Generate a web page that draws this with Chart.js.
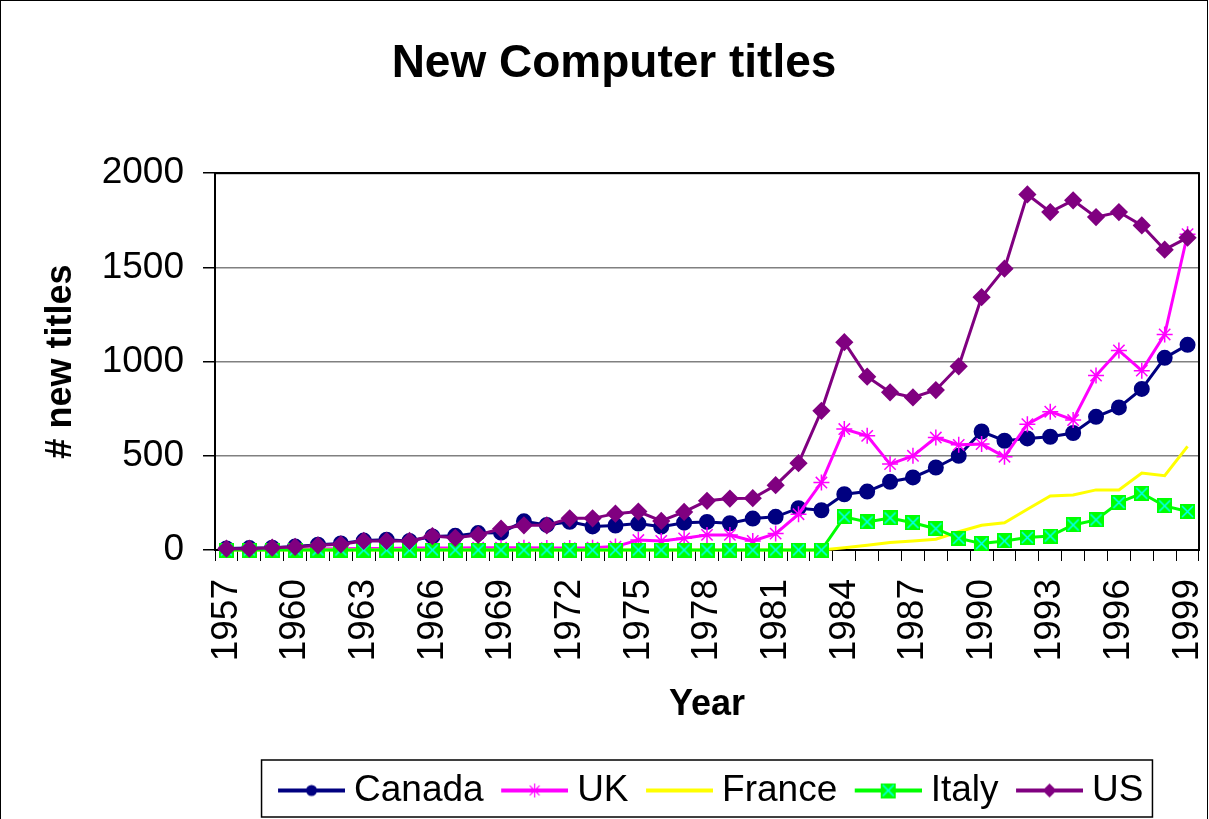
<!DOCTYPE html>
<html>
<head>
<meta charset="utf-8">
<script src="https://cdn.jsdelivr.net/npm/chart.js@4.4.0/dist/chart.umd.min.js"></script>
<style>
  html, body { margin: 0; padding: 0; background: #fff; }
  canvas { display: block; }
</style>
</head>
<body>
<canvas id="Chart" width="1209" height="819"></canvas>
<script>
// años 1957..1999
const years = ['1957','1958','1959','1960','1961','1962','1963','1964','1965','1966',
  '1967','1968','1969','1970','1971','1972','1973','1974','1975','1976','1977','1978',
  '1979','1980','1981','1982','1983','1984','1985','1986','1987','1988','1989','1990',
  '1991','1992','1993','1994','1995','1996','1997','1998','1999'];

const canada = [8, 10, 12, 18, 28, 35, 50, 55, 48, 72, 75, 90, 92, 152, 133, 150, 125, 130,
  140, 124, 145, 149, 142, 167, 176, 222, 211, 296, 310, 362,
  385, 438, 500, 629, 580, 592, 601, 621, 707, 757, 855, 1020, 1089];

const uk = [3, 3, 4, 5, 5, 6, 8, 8, 10, 10, 10, 12, 12, 12, 10, 10, 12, 18,
  53, 48, 62, 80, 80, 48, 87, 190, 358, 642, 606, 456,
  500, 597, 558, 562, 495, 668, 734, 690, 926, 1059, 952, 1144, 1676];

const france = [0, 0, 0, 0, 0, 0, 0, 0, 0, 0, 0, 0, 0, 0, 0, 0, 0, 0,
  0, 0, 0, 0, 0, 0, 0, 0, 0, 12, 25, 40,
  48, 57, 97, 131, 145, 216, 287, 292, 319, 319, 408, 394, 550];

const italy = [0, 0, 0, 0, 0, 0, 0, 0, 0, 0, 0, 0, 0, 0, 0, 0, 0, 0,
  0, 0, 0, 0, 0, 0, 0, 0, 0, 176, 149, 170,
  145, 113, 62, 34, 48, 66, 74, 133, 160, 252, 301, 234, 204];

const us = [7, 7, 12, 16, 25, 30, 48, 48, 48, 74, 65, 80, 113, 131, 131, 168, 168, 193,
  204, 154, 202, 261, 273, 275, 344, 461, 739, 1103, 920, 837,
  810, 849, 975, 1342, 1493, 1887, 1794, 1856, 1767, 1794, 1723, 1594, 1658];

const yTicks = [0, 500, 1000, 1500, 2000];

const NAVY = '#000080', MAGENTA = '#FF00FF', YELLOW = '#FFFF00', GREEN = '#00FF00', PURPLE = '#800080';

// marcador de Italia: cuadrado verde con una X cian
function italyMarker(size) {
  const c = document.createElement('canvas');
  c.width = size; c.height = size;
  const g = c.getContext('2d');
  g.fillStyle = GREEN;
  g.fillRect(0, 0, size, size);
  g.strokeStyle = '#00FFFF';
  g.lineWidth = 1.5;
  g.beginPath();
  g.moveTo(2, 2); g.lineTo(size - 2, size - 2);
  g.moveTo(size - 2, 2); g.lineTo(2, size - 2);
  g.stroke();
  return c;
}

// muestra de leyenda: línea + marcador, con hueco transparente a la izquierda
function legendSample(color, marker) {
  const c = document.createElement('canvas');
  c.width = 84; c.height = 20;
  const g = c.getContext('2d');
  const x0 = 17, x1 = 84, cx = (x0 + x1) / 2, cy = 10;
  g.strokeStyle = color;
  g.lineWidth = 4;
  g.beginPath(); g.moveTo(x0, cy); g.lineTo(x1, cy); g.stroke();
  g.fillStyle = color;
  if (marker === 'circle') {
    g.beginPath(); g.arc(cx, cy, 5.5, 0, Math.PI * 2); g.fill();
  } else if (marker === 'star') {
    g.lineWidth = 1.2;
    g.beginPath();
    for (let k = 0; k < 4; k++) {
      const a = k * Math.PI / 4;
      g.moveTo(cx - Math.cos(a) * 7, cy - Math.sin(a) * 7);
      g.lineTo(cx + Math.cos(a) * 7, cy + Math.sin(a) * 7);
    }
    g.stroke();
  } else if (marker === 'square') {
    g.drawImage(italyMarker(15), cx - 7.5, cy - 7.5);
  } else if (marker === 'diamond') {
    g.beginPath();
    g.moveTo(cx - 7, cy); g.lineTo(cx, cy - 7); g.lineTo(cx + 7, cy); g.lineTo(cx, cy + 7);
    g.closePath(); g.fill();
  }
  return c;
}

const samples = [
  legendSample(NAVY, 'circle'),
  legendSample(MAGENTA, 'star'),
  legendSample(YELLOW, null),
  legendSample(GREEN, 'square'),
  legendSample(PURPLE, 'diamond')
];

const framePlugin = {
  id: 'frame',
  beforeDatasetsDraw(chart) {
    const a = chart.chartArea, c = chart.ctx;
    c.save();
    c.strokeStyle = '#000';
    c.lineWidth = 2;
    c.strokeRect(a.left, a.top, a.right - a.left, a.bottom - a.top);
    c.restore();
  },
  afterDraw(chart) {
    const c = chart.ctx;
    const hb = chart.legend.legendHitBoxes;
    c.save();
    c.strokeStyle = '#000';
    c.lineWidth = 1;
    c.strokeRect(0.5, 0.5, chart.width - 2, chart.height + 10);
    if (hb && hb.length) {
      const first = hb[0], last = hb[hb.length - 1];
      const left = first.left - 9, right = last.left + last.width + 9;
      const top = first.top - 12, bottom = first.top + first.height + 8;
      c.lineWidth = 1.5;
      c.strokeRect(left, top, right - left, bottom - top);
    }
    c.restore();
  }
};

Chart.defaults.font.family = '"Liberation Sans", Arial, sans-serif';
Chart.defaults.color = '#000';

const ctx = document.getElementById('Chart').getContext('2d');

const chart = new Chart(ctx, {
  type: 'line',
  data: {
    labels: years,
    datasets: [
      { label: 'Canada', data: canada, borderColor: NAVY, backgroundColor: NAVY,
        borderWidth: 3, pointStyle: 'circle', pointRadius: 6.5, order: 5 },
      { label: 'UK', data: uk, borderColor: MAGENTA, backgroundColor: MAGENTA,
        borderWidth: 3, pointStyle: 'star', pointRadius: 8, pointBorderWidth: 1.5, order: 4 },
      { label: 'France', data: france, borderColor: YELLOW, backgroundColor: YELLOW,
        borderWidth: 3, pointRadius: 0, order: 3 },
      { label: 'Italy', data: italy, borderColor: GREEN, backgroundColor: GREEN,
        borderWidth: 3, pointStyle: italyMarker(15), order: 2 },
      { label: 'US', data: us, borderColor: PURPLE, backgroundColor: PURPLE,
        borderWidth: 3, pointStyle: 'rectRot', pointRadius: 7, order: 1 }
    ]
  },
  options: {
    responsive: false,
    animation: false,
    devicePixelRatio: 1,
    clip: false,
    layout: { padding: { left: 28, right: 9, top: 0, bottom: 0 } },
    elements: { line: { tension: 0 } },
    plugins: {
      title: {
        display: true,
        text: 'New Computer titles',
        font: { size: 46, weight: 'bold' },
        padding: { top: 37, bottom: 81 }
      },
      legend: {
        position: 'bottom',
        fullSize: false,
        labels: {
          usePointStyle: true,
          pointStyleWidth: 65,
          padding: 10,
          font: { size: 37 },
          generateLabels: (ch) => ch.data.datasets.map((ds, i) => ({
            text: ds.label,
            pointStyle: samples[i],
            datasetIndex: i,
            hidden: false,
            fontColor: '#000',
            lineWidth: 0,
            strokeStyle: 'transparent',
            fillStyle: 'transparent'
          }))
        }
      },
      tooltip: { enabled: false }
    },
    scales: {
      x: {
        type: 'category',
        offset: true,
        afterFit: (s) => { s.height = 212; s.paddingLeft = 0; s.paddingRight = 0; },
        grid: { offset: true, drawOnChartArea: false, tickLength: 11, tickColor: '#000', tickWidth: 1 },
        border: { color: '#000', width: 2 },
        ticks: {
          autoSkip: false,
          minRotation: 90,
          maxRotation: 90,
          padding: 18,
          font: { size: 37 },
          callback: (v, i) => (i % 3 === 0 ? years[i] : '')
        },
        title: {
          display: true,
          text: 'Year',
          font: { size: 36, weight: 'bold' },
          padding: { top: 0, bottom: 35 }
        }
      },
      y: {
        min: yTicks[0],
        max: yTicks[yTicks.length - 1],
        afterFit: (s) => { s.width = 187; },
        afterBuildTicks: (s) => { s.ticks = yTicks.map(v => ({ value: v })); },
        grid: {
          color: (c) => (c.tick && (c.tick.value === 2000 || c.tick.value === 0) ? '#000' : '#808080'),
          lineWidth: 1.5,
          tickLength: 12,
          tickColor: '#000'
        },
        border: { color: '#000', width: 2 },
        ticks: { padding: 19, font: { size: 37 }, callback: (v) => String(v) },
        title: {
          display: true,
          text: '# new titles',
          font: { size: 36, weight: 'bold' },
          padding: { top: 11, bottom: 0 }
        }
      }
    }
  },
  plugins: [framePlugin]
});
</script>
</body>
</html>
